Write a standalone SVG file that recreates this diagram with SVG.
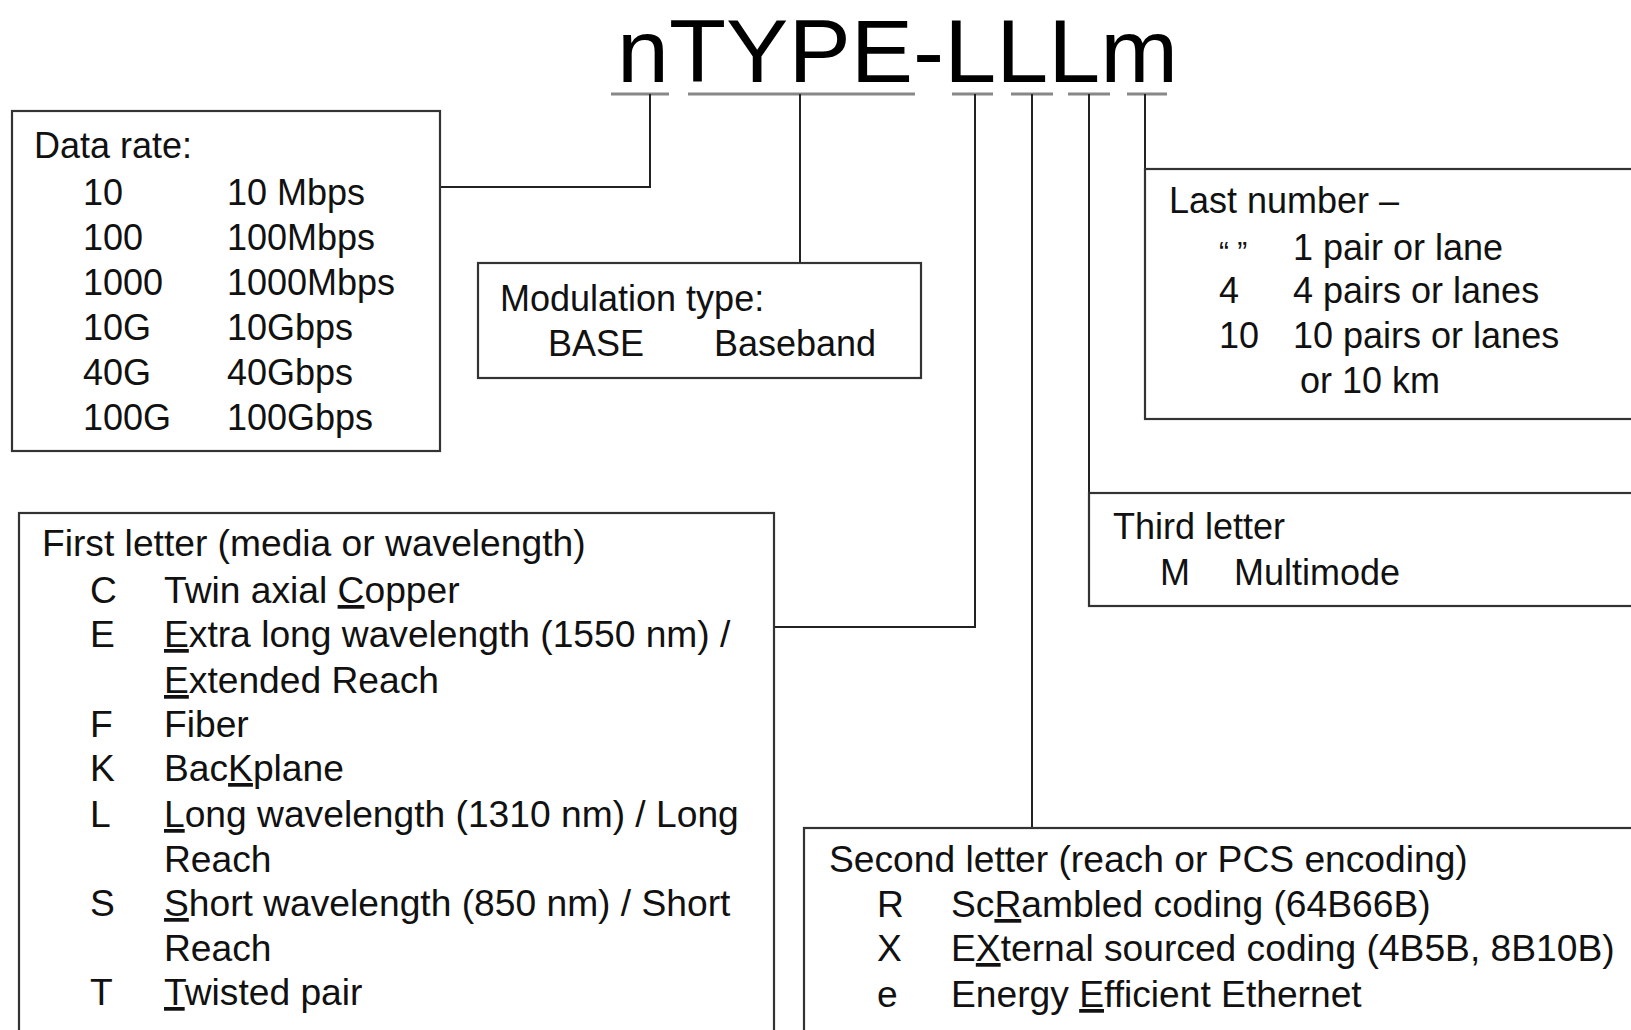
<svg xmlns="http://www.w3.org/2000/svg" width="1631" height="1030" viewBox="0 0 1631 1030">
<style>
  .box { fill: #fff; stroke: #333; stroke-width: 2.2; }
  .t { font-family: "Liberation Sans", Arial, sans-serif; font-size: 36px; fill: #111; }
  .t2 { font-family: "Liberation Sans", Arial, sans-serif; font-size: 37.2px; fill: #111; }
  .title { font-family: "Liberation Sans", Arial, sans-serif; font-size: 89px; fill: #000; }
  .ul { stroke: #888; stroke-width: 3; }
  .con { fill: none; stroke: #222; stroke-width: 2; }
  .u { text-decoration: underline; }
</style>
<rect width="1631" height="1030" fill="#fff"/>

<g id="title">
  <text class="title" x="617" y="82" textLength="561" lengthAdjust="spacingAndGlyphs">nTYPE-LLLm</text>
  <line class="ul" x1="611" y1="94" x2="669" y2="94"/>
  <line class="ul" x1="688" y1="94" x2="915" y2="94"/>
  <line class="ul" x1="952" y1="94" x2="993" y2="94"/>
  <line class="ul" x1="1011" y1="94" x2="1053" y2="94"/>
  <line class="ul" x1="1068" y1="94" x2="1110" y2="94"/>
  <line class="ul" x1="1127" y1="94" x2="1167" y2="94"/>
</g>

<g id="connectors">
  <polyline class="con" points="650,94 650,187 440,187"/>
  <polyline class="con" points="800,94 800,263"/>
  <polyline class="con" points="975,94 975,627 774,627"/>
  <polyline class="con" points="1032,94 1032,828"/>
  <polyline class="con" points="1089,94 1089,493"/>
  <polyline class="con" points="1145,94 1145,169"/>
</g>

<g id="data-rate">
  <rect class="box" x="12" y="111" width="428" height="340"/>
  <text class="t" x="34" y="158">Data rate:</text>
  <text class="t" x="83" y="205">10</text><text class="t" x="227" y="205">10 Mbps</text>
  <text class="t" x="83" y="250">100</text><text class="t" x="227" y="250">100Mbps</text>
  <text class="t" x="83" y="295">1000</text><text class="t" x="227" y="295">1000Mbps</text>
  <text class="t" x="83" y="340">10G</text><text class="t" x="227" y="340">10Gbps</text>
  <text class="t" x="83" y="385">40G</text><text class="t" x="227" y="385">40Gbps</text>
  <text class="t" x="83" y="430">100G</text><text class="t" x="227" y="430">100Gbps</text>
</g>

<g id="modulation">
  <rect class="box" x="478" y="263" width="443" height="115"/>
  <text class="t" x="500" y="311">Modulation type:</text>
  <text class="t" x="548" y="356">BASE</text>
  <text class="t" x="714" y="356">Baseband</text>
</g>

<g id="last-number">
  <rect class="box" x="1145" y="169" width="500" height="250"/>
  <text class="t" x="1169" y="213">Last number –</text>
  <text class="t" x="1219" y="262" style="font-size:30px">“ ”</text><text class="t" x="1293" y="260">1 pair or lane</text>
  <text class="t" x="1219" y="303">4</text><text class="t" x="1293" y="303">4 pairs or lanes</text>
  <text class="t" x="1219" y="348">10</text><text class="t" x="1293" y="348">10 pairs or lanes</text>
  <text class="t" x="1300" y="393">or 10 km</text>
</g>

<g id="third-letter">
  <rect class="box" x="1089" y="493" width="560" height="113"/>
  <text class="t" x="1113" y="539">Third letter</text>
  <text class="t" x="1160" y="585">M</text>
  <text class="t" x="1234" y="585">Multimode</text>
</g>

<g id="first-letter">
  <rect class="box" x="19" y="513" width="755" height="540"/>
  <text class="t2" x="42" y="556">First letter (media or wavelength)</text>
  <text class="t2" x="90" y="603">C</text><text class="t2" x="164" y="603">Twin axial <tspan class="u">C</tspan>opper</text>
  <text class="t2" x="90" y="647">E</text><text class="t2" x="164" y="647"><tspan class="u">E</tspan>xtra long wavelength (1550 nm) /</text>
  <text class="t2" x="164" y="693"><tspan class="u">E</tspan>xtended Reach</text>
  <text class="t2" x="90" y="737">F</text><text class="t2" x="164" y="737">Fiber</text>
  <text class="t2" x="90" y="781">K</text><text class="t2" x="164" y="781">Bac<tspan class="u">K</tspan>plane</text>
  <text class="t2" x="90" y="827">L</text><text class="t2" x="164" y="827"><tspan class="u">L</tspan>ong wavelength (1310 nm) / Long</text>
  <text class="t2" x="164" y="872">Reach</text>
  <text class="t2" x="90" y="916">S</text><text class="t2" x="164" y="916"><tspan class="u">S</tspan>hort wavelength (850 nm) / Short</text>
  <text class="t2" x="164" y="961">Reach</text>
  <text class="t2" x="90" y="1005">T</text><text class="t2" x="164" y="1005"><tspan class="u">T</tspan>wisted pair</text>
</g>

<g id="second-letter">
  <rect class="box" x="804" y="828" width="850" height="230"/>
  <text class="t2" x="829" y="872">Second letter (reach or PCS encoding)</text>
  <text class="t2" x="877" y="917">R</text><text class="t2" x="951" y="917">Sc<tspan class="u">R</tspan>ambled coding (64B66B)</text>
  <text class="t2" x="877" y="961">X</text><text class="t2" x="951" y="961">E<tspan class="u">X</tspan>ternal sourced coding (4B5B, 8B10B)</text>
  <text class="t2" x="877" y="1007">e</text><text class="t2" x="951" y="1007">Energy <tspan class="u">E</tspan>fficient Ethernet</text>
</g>
</svg>
